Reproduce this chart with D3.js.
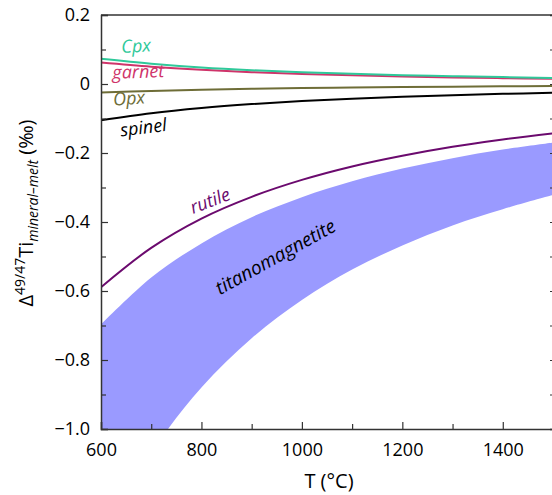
<!DOCTYPE html>
<html>
<head>
<meta charset="utf-8">
<script src="https://cdnjs.cloudflare.com/ajax/libs/d3/7.8.5/d3.min.js"></script>
<style>
  body { margin: 0; background: #fff; }
  svg text { font-family: "Open Sans", sans-serif; }
</style>
</head>
<body>
<div class="chart"></div>
<script>
// temperatures (°C) and values
var temps = [600, 700, 800, 900, 1000, 1100, 1200, 1300, 1400, 1500];
var cpx = [0.073, 0.059, 0.048, 0.040, 0.034, 0.0295, 0.0256, 0.0225, 0.020, 0.0177];
var garnet = [0.062, 0.050, 0.041, 0.0343, 0.0292, 0.0251, 0.0218, 0.0191, 0.0169, 0.015];
var opx = [-0.025, -0.0201, -0.0165, -0.0138, -0.0118, -0.0101, -0.0088, -0.0077, -0.0068, -0.0061];
var spinel = [-0.105, -0.0845, -0.0695, -0.0582, -0.0494, -0.0424, -0.0369, -0.0323, -0.0286, -0.0255];
var rutile = [-0.589, -0.475, -0.390, -0.327, -0.278, -0.239, -0.208, -0.182, -0.161, -0.143];
var tmagUpper = [-0.697, -0.561, -0.462, -0.386, -0.328, -0.282, -0.245, -0.215, -0.190, -0.170];
var tmagLower = [-1.33, -1.07, -0.880, -0.737, -0.626, -0.538, -0.468, -0.410, -0.363, -0.322];

var xTicks = [600, 800, 1000, 1200, 1400];
var yTicks = [0.2, 0, -0.2, -0.4, -0.6, -0.8, -1.0];

var svgWidth = 552;
var svgHeight = 495;
var margin = { top: 15, right: -1, bottom: 66, left: 101 };
var width = svgWidth - margin.left - margin.right;
var height = svgHeight - margin.top - margin.bottom;

var svg = d3.select(".chart").append("svg")
  .attr("width", svgWidth)
  .attr("height", svgHeight)
  .style("display", "block");

var g = svg.append("g")
  .attr("transform", "translate(" + margin.left + "," + margin.top + ")");

var x = d3.scaleLinear().domain([600, 1500]).range([0, width]);
var y = d3.scaleLinear().domain([-1.0, 0.2]).range([height, 0]);

g.append("clipPath").attr("id", "clip")
  .append("rect").attr("width", width).attr("height", height);

var plot = g.append("g").attr("clip-path", "url(#clip)");

// titanomagnetite band
var band = d3.area()
  .x(function(d, i) { return x(temps[i]); })
  .y0(function(d, i) { return y(tmagLower[i]); })
  .y1(function(d, i) { return y(tmagUpper[i]); })
  .curve(d3.curveCatmullRom);

plot.append("path")
  .datum(temps)
  .attr("d", band)
  .attr("fill", "#9a9aff");

var line = d3.line()
  .x(function(d) { return x(d.t); })
  .y(function(d) { return y(d.v); })
  .curve(d3.curveCatmullRom);

var series = [
  { name: "rutile", vals: rutile, color: "#6b0a6e" },
  { name: "spinel", vals: spinel, color: "#000000" },
  { name: "Opx", vals: opx, color: "#6e6d37" },
  { name: "garnet", vals: garnet, color: "#cf346a" },
  { name: "Cpx", vals: cpx, color: "#2fc99a" }
];

series.forEach(function(s) {
  var pts = temps.map(function(t, i) { return { t: t, v: s.vals[i] }; });
  plot.append("path")
    .datum(pts)
    .attr("d", line)
    .attr("fill", "none")
    .attr("stroke", s.color)
    .attr("stroke-width", 2);
});

// axes: ticks pointing inward
var axisColor = "#333";
var bottomAxis = d3.axisBottom(x).tickValues(d3.range(600, 1501, 100))
  .tickSize(-7).tickPadding(14)
  .tickFormat(function(d) { return xTicks.indexOf(d) >= 0 ? d : ""; });
var leftAxis = d3.axisLeft(y).tickValues(d3.range(-10, 3).map(function(d) { return d / 10; }))
  .tickSize(-7).tickPadding(11)
  .tickFormat(function(d) {
    var r = Math.round(d * 10) / 10;
    return yTicks.indexOf(r) >= 0 ? (r === 0 ? "0" : d3.format(".1f")(r)) : "";
  });

var xa = g.append("g").attr("transform", "translate(0," + height + ")").call(bottomAxis);
var ya = g.append("g").call(leftAxis);
var ra = g.append("g").attr("transform", "translate(" + width + ",0)")
  .call(d3.axisRight(y).tickValues(d3.range(-10, 3).map(function(d) { return d / 10; })).tickSize(-3).tickFormat(""));
g.append("line").attr("x1", 0).attr("x2", width).attr("y1", 0).attr("y2", 0)
  .attr("stroke", axisColor).attr("stroke-width", 1.5);

[xa, ya, ra].forEach(function(a) {
  a.select(".domain").attr("stroke", axisColor).attr("stroke-width", 1.5);
  a.selectAll(".tick line").attr("stroke", axisColor).attr("stroke-width", 1.2);
  a.selectAll(".tick text").attr("font-size", 18).attr("fill", "#000")
    .style("font-family", "'Open Sans', sans-serif");
});
// minor ticks shorter
xa.selectAll(".tick line").attr("y2", function(d) { return xTicks.indexOf(d) >= 0 ? -7 : -5; });
ya.selectAll(".tick line").attr("x2", function(d) {
  return yTicks.indexOf(Math.round(d * 10) / 10) >= 0 ? 7 : 5;
});

// series labels
var labels = [
  { text: "Cpx", t: 641, v: 0.09, rot: -3, size: 18, color: "#2fc99a" },
  { text: "garnet", t: 623, v: 0.015, rot: -2, size: 18, color: "#cf346a" },
  { text: "Opx", t: 625, v: -0.063, rot: -4, size: 18, color: "#6e6d37" },
  { text: "spinel", t: 640, v: -0.152, rot: -7, size: 18, color: "#000" },
  { text: "rutile", t: 783, v: -0.377, rot: -21, size: 18, color: "#6b0a6e" },
  { text: "titanomagnetite", t: 837, v: -0.612, rot: -29, size: 19, color: "#000" }
];
labels.forEach(function(l) {
  g.append("text")
    .attr("transform", "translate(" + x(l.t) + "," + y(l.v) + ") rotate(" + l.rot + ")")
    .attr("font-size", l.size)
    .attr("font-style", "italic")
    .attr("fill", l.color)
    .text(l.text);
});

// axis titles
svg.append("text")
  .attr("x", 329).attr("y", 488)
  .attr("text-anchor", "middle")
  .attr("font-size", 20)
  .text("T (°C)");

var yl = svg.append("text")
  .attr("transform", "translate(33,213) rotate(-90)")
  .attr("text-anchor", "middle")
  .attr("font-size", 20);
yl.append("tspan").text("Δ");
yl.append("tspan").attr("font-size", 14).attr("dy", -8).text("49/47");
yl.append("tspan").attr("dy", 8).text("Ti");
yl.append("tspan").attr("font-size", 14).attr("font-style", "italic").attr("dy", 5).text("mineral–melt");
yl.append("tspan").attr("dy", -5).text(" (‰)");
</script>
</body>
</html>
